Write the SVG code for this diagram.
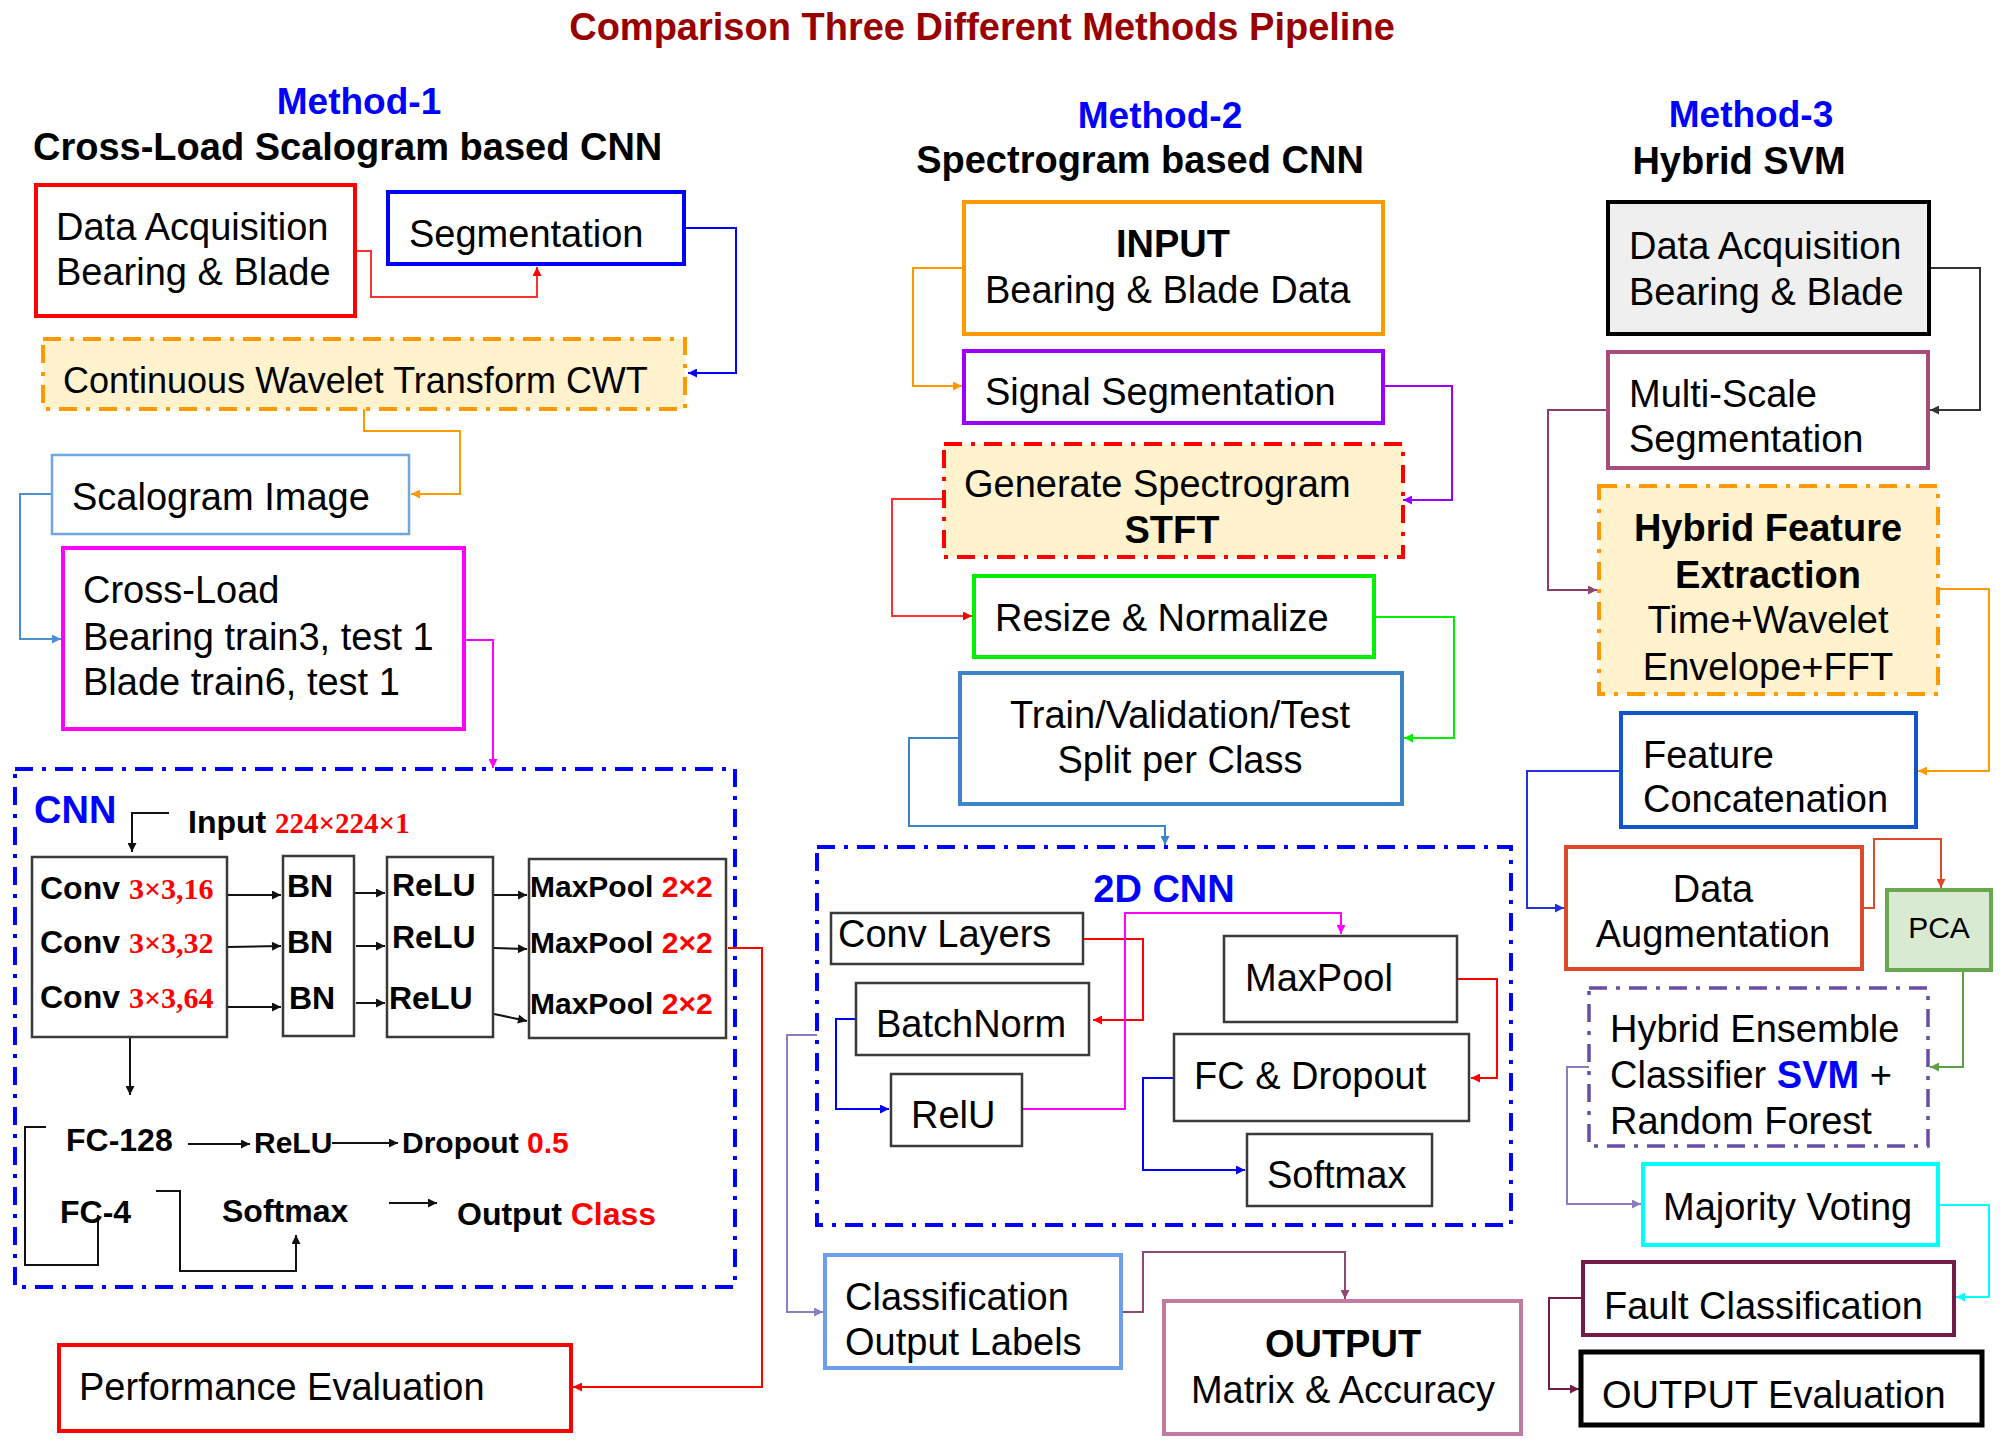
<svg xmlns="http://www.w3.org/2000/svg" width="2003" height="1448" viewBox="0 0 2003 1448">
<style>
text{font-family:"Liberation Sans",Arial,sans-serif;font-size:38px;fill:#000}
.b{font-weight:bold}
.c{text-anchor:middle}
.hd{fill:#0000FF;font-weight:bold}
.red{fill:#FF0000}
.ser{font-family:"Liberation Serif","Times New Roman",serif;font-weight:bold;fill:#FF0000}
.s32{font-size:32px;font-weight:bold}
.s30{font-size:30px;font-weight:bold}
rect{fill:#fff;stroke-width:4}
.inner{stroke:#3a3a3a;stroke-width:2.5}
.dd{stroke-dasharray:18 9 4 9}
.conn path{fill:none;stroke-width:2}
</style>
<defs>
<marker id="aRed" viewBox="0 0 10 10" refX="10" refY="5" markerWidth="11" markerHeight="9" markerUnits="userSpaceOnUse" orient="auto"><path d="M0,0 L10,5 L0,10 z" fill="#FF0000"/></marker>
<marker id="aBlue" viewBox="0 0 10 10" refX="10" refY="5" markerWidth="11" markerHeight="9" markerUnits="userSpaceOnUse" orient="auto"><path d="M0,0 L10,5 L0,10 z" fill="#0000FF"/></marker>
<marker id="aOrange" viewBox="0 0 10 10" refX="10" refY="5" markerWidth="11" markerHeight="9" markerUnits="userSpaceOnUse" orient="auto"><path d="M0,0 L10,5 L0,10 z" fill="#FF9900"/></marker>
<marker id="aLBlue" viewBox="0 0 10 10" refX="10" refY="5" markerWidth="11" markerHeight="9" markerUnits="userSpaceOnUse" orient="auto"><path d="M0,0 L10,5 L0,10 z" fill="#4A90D0"/></marker>
<marker id="aMag" viewBox="0 0 10 10" refX="10" refY="5" markerWidth="11" markerHeight="9" markerUnits="userSpaceOnUse" orient="auto"><path d="M0,0 L10,5 L0,10 z" fill="#FF00FF"/></marker>
<marker id="aBlack" viewBox="0 0 10 10" refX="10" refY="5" markerWidth="11" markerHeight="9" markerUnits="userSpaceOnUse" orient="auto"><path d="M0,0 L10,5 L0,10 z" fill="#111"/></marker>
<marker id="aPurple" viewBox="0 0 10 10" refX="10" refY="5" markerWidth="11" markerHeight="9" markerUnits="userSpaceOnUse" orient="auto"><path d="M0,0 L10,5 L0,10 z" fill="#9900FF"/></marker>
<marker id="aGreen" viewBox="0 0 10 10" refX="10" refY="5" markerWidth="11" markerHeight="9" markerUnits="userSpaceOnUse" orient="auto"><path d="M0,0 L10,5 L0,10 z" fill="#00EE00"/></marker>
<marker id="aSteel" viewBox="0 0 10 10" refX="10" refY="5" markerWidth="11" markerHeight="9" markerUnits="userSpaceOnUse" orient="auto"><path d="M0,0 L10,5 L0,10 z" fill="#3D85C6"/></marker>
<marker id="aLav" viewBox="0 0 10 10" refX="10" refY="5" markerWidth="11" markerHeight="9" markerUnits="userSpaceOnUse" orient="auto"><path d="M0,0 L10,5 L0,10 z" fill="#8E7CC3"/></marker>
<marker id="aPlum" viewBox="0 0 10 10" refX="10" refY="5" markerWidth="11" markerHeight="9" markerUnits="userSpaceOnUse" orient="auto"><path d="M0,0 L10,5 L0,10 z" fill="#8E4A72"/></marker>
<marker id="aMaroon" viewBox="0 0 10 10" refX="10" refY="5" markerWidth="11" markerHeight="9" markerUnits="userSpaceOnUse" orient="auto"><path d="M0,0 L10,5 L0,10 z" fill="#741B47"/></marker>
<marker id="aCyan" viewBox="0 0 10 10" refX="10" refY="5" markerWidth="11" markerHeight="9" markerUnits="userSpaceOnUse" orient="auto"><path d="M0,0 L10,5 L0,10 z" fill="#00FFFF"/></marker>
<marker id="aOR" viewBox="0 0 10 10" refX="10" refY="5" markerWidth="11" markerHeight="9" markerUnits="userSpaceOnUse" orient="auto"><path d="M0,0 L10,5 L0,10 z" fill="#DD4A2A"/></marker>
<marker id="aPca" viewBox="0 0 10 10" refX="10" refY="5" markerWidth="11" markerHeight="9" markerUnits="userSpaceOnUse" orient="auto"><path d="M0,0 L10,5 L0,10 z" fill="#5E9E44"/></marker>
<marker id="aGray" viewBox="0 0 10 10" refX="10" refY="5" markerWidth="11" markerHeight="9" markerUnits="userSpaceOnUse" orient="auto"><path d="M0,0 L10,5 L0,10 z" fill="#333"/></marker>
<marker id="aNavy" viewBox="0 0 10 10" refX="10" refY="5" markerWidth="11" markerHeight="9" markerUnits="userSpaceOnUse" orient="auto"><path d="M0,0 L10,5 L0,10 z" fill="#2233DD"/></marker>
</defs>

<rect x="0" y="0" width="2003" height="1448" style="fill:#fff;stroke:none"/>

<!-- Titles -->
<g id="titles">
<text x="982" y="40" class="b c" style="fill:#990000">Comparison Three Different Methods Pipeline</text>
<text x="359" y="114" class="hd c" style="font-size:37px">Method-1</text>
<text x="33" y="160" class="b">Cross-Load Scalogram based CNN</text>
<text x="1160" y="128" class="hd c" style="font-size:37px">Method-2</text>
<text x="1140" y="173" class="b c">Spectrogram based CNN</text>
<text x="1751" y="127" class="hd c" style="font-size:37px">Method-3</text>
<text x="1739" y="174" class="b c">Hybrid SVM</text>
</g>

<!-- Connectors -->
<g id="connectors" class="conn">
<!-- Method 1 -->
<path d="M355,251 H371 V297 H537 V267" stroke="#FF3030" marker-end="url(#aRed)"/>
<path d="M684,228 H736 V373 H688" stroke="#0000FF" marker-end="url(#aBlue)"/>
<path d="M364,409 V431 H460 V494 H411" stroke="#FF9900" marker-end="url(#aOrange)"/>
<path d="M52,494 H20 V639 H61" stroke="#4A90D0" marker-end="url(#aLBlue)"/>
<path d="M464,640 H493 V768" stroke="#FF00FF" marker-end="url(#aMag)"/>
<path d="M728,948 H762 V1387 H573" stroke="#FF0000" marker-end="url(#aRed)"/>
<path d="M169,813 H132 V852" stroke="#111" marker-end="url(#aBlack)"/>
<path d="M228,895 H281" stroke="#111" marker-end="url(#aBlack)"/>
<path d="M228,947 L281,946" stroke="#111" marker-end="url(#aBlack)"/>
<path d="M228,1007 H281" stroke="#111" marker-end="url(#aBlack)"/>
<path d="M352,893 H385" stroke="#111" marker-end="url(#aBlack)"/>
<path d="M356,946 H385" stroke="#111" marker-end="url(#aBlack)"/>
<path d="M356,1003 H385" stroke="#111" marker-end="url(#aBlack)"/>
<path d="M494,895 H527" stroke="#111" marker-end="url(#aBlack)"/>
<path d="M494,948 L527,949" stroke="#111" marker-end="url(#aBlack)"/>
<path d="M494,1014 L527,1021" stroke="#111" marker-end="url(#aBlack)"/>
<path d="M130,1038 V1095" stroke="#111" marker-end="url(#aBlack)"/>
<path d="M188,1144 H250" stroke="#111" marker-end="url(#aBlack)"/>
<path d="M332,1143 H398" stroke="#111" marker-end="url(#aBlack)"/>
<path d="M46,1127 H25 V1265 H98 V1215" stroke="#111"/>
<path d="M156,1191 H180 V1271 H296 V1235" stroke="#111" marker-end="url(#aBlack)"/>
<path d="M389,1203 H437" stroke="#111" marker-end="url(#aBlack)"/>
<!-- Method 2 -->
<path d="M964,268 H913 V386 H962" stroke="#FF9900" marker-end="url(#aOrange)"/>
<path d="M1383,386 H1452 V500 H1403" stroke="#9900FF" marker-end="url(#aPurple)"/>
<path d="M943,499 H892 V616 H972" stroke="#FF3030" marker-end="url(#aRed)"/>
<path d="M1374,617 H1454 V738 H1404" stroke="#00EE00" marker-end="url(#aGreen)"/>
<path d="M960,738 H909 V826 H1165 V845" stroke="#3D85C6" marker-end="url(#aSteel)"/>
<path d="M1083,939 H1143 V1020 H1093" stroke="#FF0000" marker-end="url(#aRed)"/>
<path d="M856,1019 H836 V1109 H889" stroke="#0000FF" marker-end="url(#aBlue)"/>
<path d="M1022,1109 H1125 V913 H1341 V934" stroke="#FF00FF" marker-end="url(#aMag)"/>
<path d="M1457,979 H1497 V1078 H1471" stroke="#FF0000" marker-end="url(#aRed)"/>
<path d="M1174,1078 H1143 V1170 H1245" stroke="#0000FF" marker-end="url(#aBlue)"/>
<path d="M817,1035 H787 V1312 H823" stroke="#8E7CC3" marker-end="url(#aLav)"/>
<path d="M1121,1312 H1143 V1252 H1345 V1299" stroke="#8E4A72" marker-end="url(#aPlum)"/>
<!-- Method 3 -->
<path d="M1929,268 H1980 V410 H1930" stroke="#333" marker-end="url(#aGray)"/>
<path d="M1608,410 H1548 V590 H1597" stroke="#8E3A6A" marker-end="url(#aPlum)"/>
<path d="M1938,589 H1989 V771 H1918" stroke="#FF9900" marker-end="url(#aOrange)"/>
<path d="M1621,771 H1527 V908 H1564" stroke="#2233DD" marker-end="url(#aNavy)"/>
<path d="M1862,908 H1874 V839 H1941 V888" stroke="#DD4A2A" marker-end="url(#aOR)"/>
<path d="M1963,971 V1067 H1930" stroke="#5E9E44" marker-end="url(#aPca)"/>
<path d="M1589,1067 H1567 V1204 H1641" stroke="#8E7CC3" marker-end="url(#aLav)"/>
<path d="M1938,1205 H1989 V1297 H1956" stroke="#00FFFF" marker-end="url(#aCyan)"/>
<path d="M1583,1298 H1549 V1389 H1579" stroke="#741B47" marker-end="url(#aMaroon)"/>
</g>

<!-- Method 1 nodes -->
<g id="m1-data-acq"><rect x="36" y="185" width="319" height="131" stroke="#FF0000"/>
<text x="56" y="240">Data Acquisition</text><text x="56" y="285">Bearing &amp; Blade</text></g>
<g id="m1-segmentation"><rect x="388" y="192" width="296" height="72" stroke="#0000FF"/>
<text x="409" y="247">Segmentation</text></g>
<g id="m1-cwt"><rect x="43" y="339" width="642" height="70" class="dd" stroke="#FF9900" style="fill:#FFF2CC"/>
<text x="63" y="393" style="font-size:36px">Continuous Wavelet Transform CWT</text></g>
<g id="m1-scalogram"><rect x="52" y="455" width="357" height="79" stroke="#6FA8DC" style="stroke-width:2.5"/>
<text x="72" y="510">Scalogram Image</text></g>
<g id="m1-crossload"><rect x="63" y="548" width="401" height="181" stroke="#FF00FF"/>
<text x="83" y="603">Cross-Load</text><text x="83" y="650">Bearing train3, test 1</text><text x="83" y="695">Blade train6, test 1</text></g>
<g id="m1-cnn"><rect x="15" y="769" width="720" height="518" class="dd" stroke="#0000FF" style="fill:none"/>
<text x="34" y="823" class="hd">CNN</text>
<text x="188" y="833" class="s32">Input <tspan class="ser" style="font-size:29px">224×224×1</tspan></text>
</g>
<g id="m1-conv"><rect x="32" y="857" width="195" height="180" class="inner"/>
<text x="40" y="899" class="s32">Conv <tspan class="ser" style="font-size:30px">3×3,16</tspan></text>
<text x="40" y="953" class="s32">Conv <tspan class="ser" style="font-size:30px">3×3,32</tspan></text>
<text x="40" y="1008" class="s32">Conv <tspan class="ser" style="font-size:30px">3×3,64</tspan></text></g>
<g id="m1-bn"><rect x="283" y="856" width="71" height="180" class="inner"/>
<text x="287" y="897" class="s32">BN</text><text x="287" y="953" class="s32">BN</text><text x="289" y="1009" class="s32">BN</text></g>
<g id="m1-relu"><rect x="387" y="857" width="106" height="180" class="inner"/>
<text x="392" y="896" class="s32">ReLU</text><text x="392" y="948" class="s32">ReLU</text><text x="389" y="1009" class="s32">ReLU</text></g>
<g id="m1-maxpool"><rect x="529" y="859" width="197" height="179" class="inner"/>
<text x="530" y="897" class="s30">MaxPool <tspan class="red">2×2</tspan></text>
<text x="530" y="953" class="s30">MaxPool <tspan class="red">2×2</tspan></text>
<text x="530" y="1014" class="s30">MaxPool <tspan class="red">2×2</tspan></text></g>
<g id="m1-fc128"><text x="66" y="1151" class="s32">FC-128</text></g>
<g id="m1-relu2"><text x="254" y="1153" class="s30">ReLU</text></g>
<g id="m1-dropout"><text x="402" y="1153" class="s30">Dropout <tspan class="red">0.5</tspan></text></g>
<g id="m1-fc4"><text x="60" y="1223" class="s32">FC-4</text></g>
<g id="m1-softmax"><text x="222" y="1222" class="s32">Softmax</text></g>
<g id="m1-output"><text x="457" y="1225" class="s32">Output <tspan class="red">Class</tspan></text></g>
<g id="m1-perf"><rect x="59" y="1345" width="512" height="86" stroke="#FF0000"/>
<text x="79" y="1400">Performance Evaluation</text></g>

<!-- Method 2 nodes -->
<g id="m2-input"><rect x="964" y="202" width="419" height="132" stroke="#FF9900"/>
<text x="1173" y="257" class="b c">INPUT</text><text x="985" y="303">Bearing &amp; Blade Data</text></g>
<g id="m2-sigseg"><rect x="964" y="351" width="419" height="72" stroke="#9900FF"/>
<text x="985" y="405">Signal Segmentation</text></g>
<g id="m2-generate"><rect x="944" y="444" width="459" height="113" class="dd" stroke="#FF0000" style="fill:#FFF2CC"/>
<text x="964" y="497">Generate Spectrogram</text><text x="1172" y="543" class="b c">STFT</text></g>
<g id="m2-resize"><rect x="974" y="576" width="400" height="81" stroke="#00EE00"/>
<text x="995" y="631">Resize &amp; Normalize</text></g>
<g id="m2-split"><rect x="960" y="673" width="442" height="131" stroke="#3D85C6"/>
<text x="1180" y="728" class="c">Train/Validation/Test</text><text x="1180" y="773" class="c">Split per Class</text></g>
<g id="m2-2dcnn"><rect x="817" y="847" width="694" height="378" class="dd" stroke="#0000FF" style="fill:none"/>
<text x="1164" y="902" class="hd c">2D CNN</text></g>
<g id="m2-conv"><rect x="831" y="913" width="252" height="51" class="inner"/><text x="838" y="947">Conv Layers</text></g>
<g id="m2-maxpool"><rect x="1224" y="936" width="233" height="86" class="inner"/><text x="1245" y="991">MaxPool</text></g>
<g id="m2-batchnorm"><rect x="856" y="983" width="233" height="72" class="inner"/><text x="876" y="1037">BatchNorm</text></g>
<g id="m2-relu"><rect x="891" y="1074" width="131" height="72" class="inner"/><text x="911" y="1128">RelU</text></g>
<g id="m2-fc"><rect x="1174" y="1034" width="295" height="87" class="inner"/><text x="1194" y="1089">FC &amp; Dropout</text></g>
<g id="m2-softmax"><rect x="1247" y="1134" width="185" height="72" class="inner"/><text x="1267" y="1188">Softmax</text></g>
<g id="m2-class"><rect x="825" y="1255" width="296" height="113" stroke="#6D9EEB"/>
<text x="845" y="1310">Classification</text><text x="845" y="1355">Output Labels</text></g>
<g id="m2-output"><rect x="1164" y="1301" width="357" height="133" stroke="#C27BA0"/>
<text x="1343" y="1357" class="b c">OUTPUT</text><text x="1343" y="1403" class="c">Matrix &amp; Accuracy</text></g>

<!-- Method 3 nodes -->
<g id="m3-data-acq"><rect x="1608" y="202" width="321" height="132" stroke="#000" style="fill:#EFEFEF"/>
<text x="1629" y="259">Data Acquisition</text><text x="1629" y="305">Bearing &amp; Blade</text></g>
<g id="m3-multiscale"><rect x="1608" y="352" width="320" height="116" stroke="#A64D79"/>
<text x="1629" y="407">Multi-Scale</text><text x="1629" y="452">Segmentation</text></g>
<g id="m3-hybridfeat"><rect x="1599" y="486" width="339" height="208" class="dd" stroke="#FF9900" style="fill:#FFF2CC"/>
<text x="1768" y="541" class="b c">Hybrid Feature</text><text x="1768" y="588" class="b c">Extraction</text>
<text x="1768" y="633" class="c">Time+Wavelet</text><text x="1768" y="680" class="c">Envelope+FFT</text></g>
<g id="m3-concat"><rect x="1621" y="713" width="295" height="114" stroke="#1155CC"/>
<text x="1643" y="768">Feature</text><text x="1643" y="812">Concatenation</text></g>
<g id="m3-aug"><rect x="1566" y="847" width="296" height="122" stroke="#DD4A2A"/>
<text x="1713" y="902" class="c">Data</text><text x="1713" y="947" class="c">Augmentation</text></g>
<g id="m3-pca"><rect x="1887" y="890" width="104" height="80" stroke="#6AA84F" style="fill:#D9EAD3"/>
<text x="1939" y="938" class="c" style="font-size:30px">PCA</text></g>
<g id="m3-ensemble"><rect x="1589" y="988" width="339" height="158" class="dd" stroke="#674EA7" style="fill:none;stroke-width:3.5"/>
<text x="1610" y="1042">Hybrid Ensemble</text>
<text x="1610" y="1088">Classifier <tspan class="hd">SVM</tspan> +</text>
<text x="1610" y="1134">Random Forest</text></g>
<g id="m3-voting"><rect x="1643" y="1164" width="295" height="81" stroke="#00FFFF"/>
<text x="1663" y="1220">Majority Voting</text></g>
<g id="m3-fault"><rect x="1583" y="1262" width="371" height="73" stroke="#741B47"/>
<text x="1604" y="1319">Fault Classification</text></g>
<g id="m3-eval"><rect x="1581" y="1352" width="401" height="73" stroke="#000" style="stroke-width:5"/>
<text x="1602" y="1408">OUTPUT Evaluation</text></g>
</svg>
